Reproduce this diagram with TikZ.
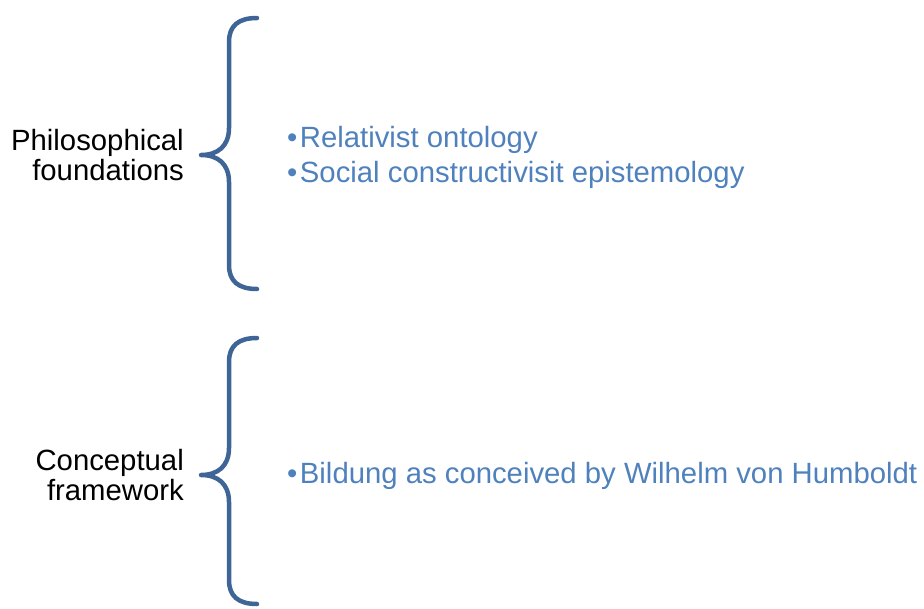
\documentclass[tikz,border=0pt]{standalone}
\usepackage{fontspec}
\setmainfont{Liberation Sans}
\definecolor{bracecol}{HTML}{3E6595}
\definecolor{itemcol}{HTML}{4F81BD}
\newcommand{\itembul}{\textbullet\kern2.5pt}
\begin{document}
\begin{tikzpicture}[x=1pt,y=1pt,
  bracestyle/.style={draw=bracecol,line width=4.5pt,line cap=round,line join=round},
  leftlabel/.style={anchor=east,align=right,font=\fontsize{29.3}{30}\selectfont,inner sep=0pt,text=black},
  itemtext/.style={anchor=west,font=\fontsize{29.3}{30}\selectfont,inner sep=0pt,text=itemcol}]
\useasboundingbox (0,0) rectangle (924,-608);
% brace 1
\coordinate (b1top) at (257,-18);
\coordinate (b1tip) at (201,-155);
\coordinate (b1bot) at (257,-289);
\path[bracestyle] (b1top) .. controls (238,-18) and (229,-26) .. (229,-42) -- (229,-128)
  .. controls (229,-146) and (218,-155) .. (b1tip)
  .. controls (218,-155) and (229,-164) .. (229,-182) -- (229,-265)
  .. controls (229,-281) and (238,-289) .. (b1bot);
% brace 2
\coordinate (b2top) at (257,-338);
\coordinate (b2tip) at (201,-475);
\coordinate (b2bot) at (257,-604);
\path[bracestyle] (b2top) .. controls (238,-338) and (229,-346) .. (229,-362) -- (229,-448)
  .. controls (229,-466) and (218,-475) .. (b2tip)
  .. controls (218,-475) and (229,-484) .. (229,-502) -- (229,-580)
  .. controls (229,-596) and (238,-604) .. (b2bot);
% labels
\node[leftlabel] (pf) at (184,-155) {Philosophical\\foundations};
\node[leftlabel] (cf) at (184,-475) {Conceptual\\framework};
\node[itemtext] (i1) at (287,-139.5) {\itembul Relativist ontology};
\node[itemtext] (i2) at (287,-174.5) {\itembul Social constructivisit epistemology};
\node[itemtext] (i3) at (287,-476) {\itembul Bildung as conceived by Wilhelm von Humboldt};
\end{tikzpicture}
\end{document}
